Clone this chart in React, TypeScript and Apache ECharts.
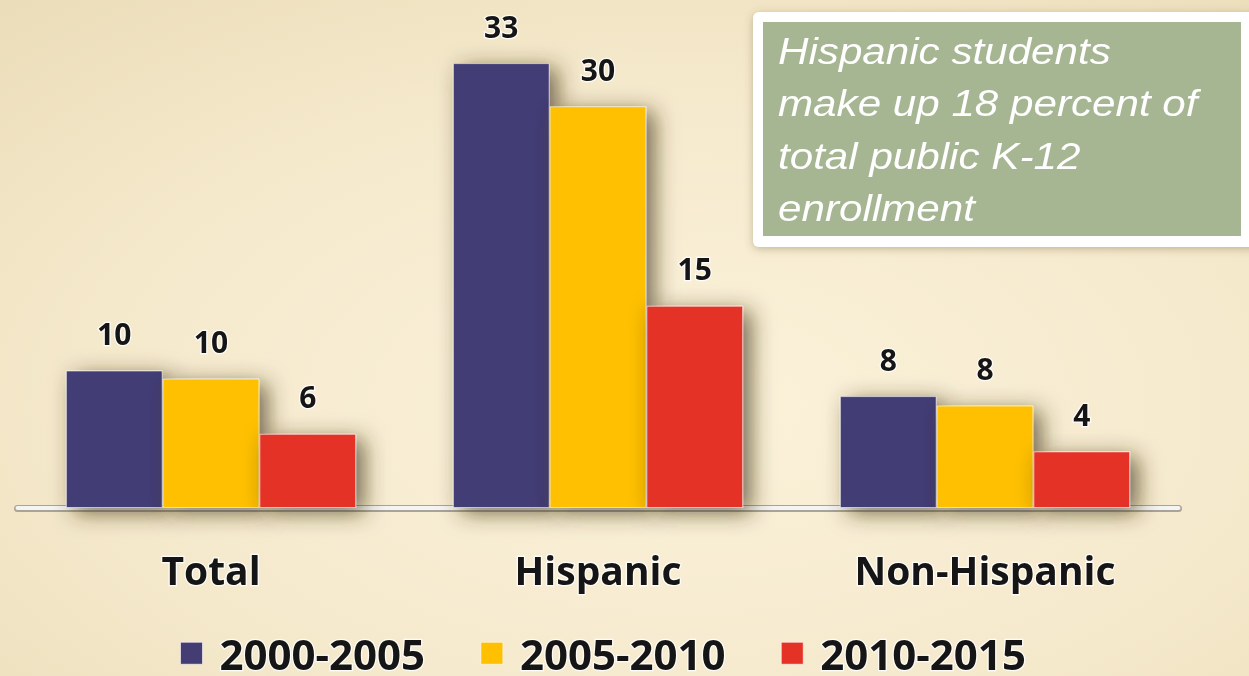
import React, { useEffect, useRef } from "react";
import * as echarts from "echarts";

const categories = ["Total", "Hispanic", "Non-Hispanic"];
const seriesNames = ["2000-2005", "2005-2010", "2010-2015"];
const values2000 = [10.2, 33, 8.3];
const values2005 = [9.6, 29.8, 7.6];
const values2010 = [5.5, 15, 4.2];
const labels2000 = ["10", "33", "8"];
const labels2005 = ["10", "30", "8"];
const labels2010 = ["6", "15", "4"];
const colors = ["#433d74", "#fec000", "#e53226"];
const noteLines = [
  "Hispanic students",
  "make up 18 percent of",
  "total public K-12",
  "enrollment",
];

const FONT = "'Open Sans', 'Noto Sans', sans-serif";

export default function App() {
  const ref = useRef<HTMLDivElement>(null);
  useEffect(() => {
    if (!ref.current) return;
    const chart = echarts.init(ref.current, null, { renderer: "svg" });
    const valueSets = [values2000, values2005, values2010];
    const labelSets = [labels2000, labels2005, labels2010];
    const series = seriesNames.map((name, i) => ({
      name,
      type: "bar",
      xAxisIndex: 0,
      data: valueSets[i],
      barGap: "0%",
      barCategoryGap: "25%",
      z: 3,
      itemStyle: {
        color: colors[i],
        borderColor: "rgba(255,255,255,0.55)",
        borderWidth: 1,
        shadowBlur: 22,
        shadowColor: "rgba(60,45,25,0.7)",
        shadowOffsetX: 8,
        shadowOffsetY: 5,
      },
      label: {
        show: true,
        position: "top",
        distance: 22,
        formatter: (p: any) => labelSets[i][p.dataIndex],
        fontFamily: FONT,
        fontWeight: "bold",
        fontSize: 30,
        color: "#151515",
        textBorderColor: "rgba(255,255,255,0.85)",
        textBorderWidth: 2.5,
      },
    }));

    const graphicEls: any[] = [
      {
        type: "rect",
        shape: { x: 753, y: 12, width: 520, height: 235, r: 6 },
        style: {
          fill: "#ffffff",
          shadowBlur: 8,
          shadowColor: "rgba(90,70,40,0.35)",
          shadowOffsetY: 2,
        },
        z: 10,
      },
      {
        type: "rect",
        shape: { x: 763, y: 22, width: 478, height: 214 },
        style: { fill: "#a6b592" },
        z: 11,
      },
    ];
    noteLines.forEach((t, k) => {
      graphicEls.push({
        type: "text",
        x: 778,
        y: 69 + k * 52.5,
        scaleX: 1.14,
        z: 12,
        style: {
          text: t,
          fill: "#ffffff",
          font: "italic 37px 'Liberation Sans', Arial, sans-serif",
          verticalAlign: "bottom",
          align: "left",
        },
      });
    });

    const labelStyle = {
      fontFamily: FONT,
      fontWeight: "bold",
      color: "#151515",
      textBorderColor: "rgba(255,255,255,0.85)",
      textBorderWidth: 2.5,
    };

    chart.setOption({
      animation: false,
      backgroundColor: {
        type: "radial",
        x: 0.55,
        y: 0.6,
        r: 0.8,
        colorStops: [
          { offset: 0, color: "#fbf2da" },
          { offset: 0.6, color: "#f5e9cc" },
          { offset: 1, color: "#ebddb9" },
        ],
      },
      grid: { left: 17.5, right: 70.5, top: 9.2, bottom: 168 },
      xAxis: [
        {
          type: "category",
          data: categories,
          axisTick: { show: false },
          axisLine: {
            show: true,
            lineStyle: { color: "#f4f4f4", width: 4 },
          },
          axisLabel: { ...labelStyle, margin: 42, fontSize: 39 },
          z: 2,
        },
        {
          type: "category",
          data: categories,
          position: "bottom",
          axisTick: { show: false },
          axisLabel: { show: false },
          axisLine: {
            show: true,
            lineStyle: { color: "#a9a398", width: 7 },
          },
          z: 1,
        },
      ],
      yAxis: {
        type: "value",
        min: 0,
        max: 37,
        show: false,
        splitLine: { show: false },
      },
      legend: {
        data: seriesNames,
        left: 175,
        top: 626,
        padding: 5,
        orient: "horizontal",
        icon: "rect",
        itemWidth: 22,
        itemHeight: 22,
        itemGap: 54,
        itemStyle: { borderColor: "rgba(255,255,255,0.6)", borderWidth: 1 },
        textStyle: {
          ...labelStyle,
          fontSize: 42,
          lineHeight: 36,
          padding: [0, 0, 0, 12],
        },
      },
      series,
      graphic: graphicEls,
    });
    return () => chart.dispose();
  }, []);
  return (
    <div
      ref={ref}
      style={{ position: "fixed", left: 0, top: 0, width: 1249, height: 676 }}
    />
  );
}
